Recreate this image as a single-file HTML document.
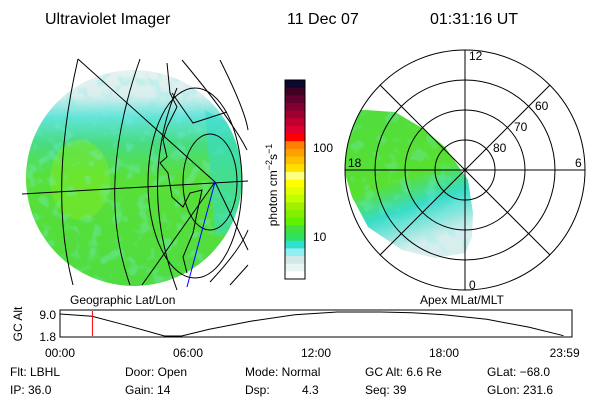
<!DOCTYPE html>
<html><head><meta charset="utf-8">
<style>
body{margin:0;background:#fff;}
svg{display:block;font-family:"Liberation Sans",sans-serif;}
</style></head>
<body>
<svg width="600" height="400" viewBox="0 0 600 400">
<defs>
<clipPath id="diskclip"><circle cx="134" cy="178" r="108"/></clipPath>
<clipPath id="polclip"><circle cx="465" cy="170" r="120"/></clipPath>
<linearGradient id="diskgrad" x1="0" y1="0" x2="0" y2="1">
<stop offset="0" stop-color="#e8f2f0"/><stop offset="0.12" stop-color="#d8eeee"/>
<stop offset="0.22" stop-color="#60e4d8"/><stop offset="0.34" stop-color="#48dc80"/>
<stop offset="0.5" stop-color="#58e038"/><stop offset="1" stop-color="#50dc40"/>
</linearGradient>
<linearGradient id="polgrad" x1="0" y1="0" x2="0.3" y2="1">
<stop offset="0" stop-color="#50dc40"/><stop offset="0.55" stop-color="#58e030"/>
<stop offset="0.75" stop-color="#38dcc8"/><stop offset="1" stop-color="#d8eeee"/>
</linearGradient>
<filter id="noise"><feTurbulence type="fractalNoise" baseFrequency="0.08" numOctaves="2" seed="3"/><feColorMatrix type="matrix" values="0 0 0 0 0.2  0 0 0 0 0.85  0 0 0 0 0.8  0 0 0 6 -3.2"/><feComposite in2="SourceGraphic" operator="in"/></filter>
</defs>

<g font-size="16" fill="#000">
<text x="45" y="24">Ultraviolet Imager</text>
<text x="287" y="24">11 Dec 07</text>
<text x="430" y="24">01:31:16 UT</text>
</g>

<g>
<circle cx="134" cy="178" r="108" fill="url(#diskgrad)"/>
<g clip-path="url(#diskclip)">
<ellipse cx="80" cy="180" rx="30" ry="40" fill="#80ec20" opacity="0.5"/>
<rect x="20" y="60" width="240" height="240" fill="#fff" filter="url(#noise)" opacity="0.3"/>
<path d="M205 110 L242 130 L242 230 L215 235 Z" fill="#38dcc8" opacity="0.6"/>
</g>
<g fill="none" stroke="#000" stroke-width="1">
<path d="M22 194 L248 181"/>
<path d="M78 59 Q48 190 73 285"/>
<path d="M140 59 Q95 187 130 285"/>
<path d="M177 88 Q138 183 177 290"/>
<path d="M78 59 L215 182 L142 285"/>
<ellipse cx="210" cy="182" rx="27" ry="48"/>
<ellipse cx="195" cy="183" rx="47" ry="95"/>
<path d="M182 60 Q232 120 247 150"/>
<path d="M220 60 Q245 110 248 130"/>
<path d="M215 182 L248 250"/>
<path d="M210 282 Q240 250 248 230"/>
<path d="M230 285 L248 265"/>
</g>
<path d="M167 63 L170 93 L177 107 L167 127 L163 140 L167 157 L160 163 L168 173 L172 197 L183 207 L190 193 L202 190 L197 213 L193 233 L183 257 L187 273 M172 93 L193 123 L227 112" fill="none" stroke="#000" stroke-width="1"/>
<path d="M215 182 L187 287" stroke="#0000ff" fill="none"/>
<text x="70" y="304" font-size="12">Geographic Lat/Lon</text>
</g>

<g id="cbar"></g>
<text transform="translate(277,185) rotate(-90)" text-anchor="middle" font-size="12">photon cm<tspan dy="-5" font-size="9">−2</tspan><tspan dy="5">s</tspan><tspan dy="-5" font-size="9">−1</tspan></text>
<text x="313" y="152" font-size="12">100</text>
<text x="313" y="241" font-size="12">10</text>

<g>
<g clip-path="url(#polclip)">
<path d="M345 110 L365 110 L395 112 L422 128 L445 147 L468 180 L473 213 L472 237 L465 253 L435 258 L402 250 L368 227 L352 197 L343 167 Z" fill="url(#polgrad)"/>
<path d="M345 110 L395 112 L445 147 L468 180 L473 213 L472 237 L465 253 L402 250 L352 197 Z" fill="#fff" filter="url(#noise)" opacity="0.25"/>
</g>
<g fill="none" stroke="#000">
<circle cx="465" cy="170" r="30"/><circle cx="465" cy="170" r="60"/>
<circle cx="465" cy="170" r="90"/><circle cx="465" cy="170" r="120"/>
<path d="M465 50 L465 290 M345 170 L585 170 M380 85 L550 255 M380 255 L550 85"/>
</g>
<g font-size="12" fill="#000">
<text x="469" y="60">12</text>
<text x="348" y="167">18</text>
<text x="575" y="167">6</text>
<text x="469" y="289">0</text>
<text x="535" y="110">60</text>
<text x="514" y="131">70</text>
<text x="493" y="152">80</text>
</g>
<text x="420" y="304" font-size="12">Apex MLat/MLT</text>
</g>

<g id="altplot">
<rect x="60" y="310" width="512" height="27" fill="none" stroke="#000"/>
<text transform="translate(22,324) rotate(-90)" text-anchor="middle" font-size="12">GC Alt</text>
<text x="56" y="319" text-anchor="end" font-size="12">9.0</text>
<text x="56" y="341" text-anchor="end" font-size="12">1.8</text>
</g>

<g font-size="12" fill="#000">
<text x="10" y="376">Flt: LBHL</text><text x="125" y="376">Door: Open</text>
<text x="245" y="376">Mode: Normal</text><text x="365" y="376">GC Alt: 6.6 Re</text>
<text x="487" y="376">GLat: −68.0</text>
<text x="10" y="394">IP: 36.0</text><text x="125" y="394">Gain: 14</text>
<text x="245" y="394">Dsp:</text><text x="302" y="394">4.3</text>
<text x="365" y="394">Seq: 39</text><text x="487" y="394">GLon: 231.6</text>
</g>
</svg>
<script>
var NS='http://www.w3.org/2000/svg';
var cbColors=['#0a0a30','#400020','#600030','#800030','#a00030','#c00030','#e00030','#ff0000','#ff8000','#ffa000','#ffc000','#ffe000','#ffff80','#ffff00','#e0ff00','#c0ff00','#a0f000','#80f000','#60f000','#40e040','#30e060','#30e0d0','#90f0f0','#d0e8e8','#e8f4f0','#ffffff'];
var altHours=[0,1.5,3,4.9,5.7,7,9,11,13,15,16.5,18,20,22,23.6];
var altValues=[8.4,7.7,5.2,1.8,1.8,3.8,6.3,8.2,9.0,9.0,8.8,8.2,6.8,4.4,1.9];
var tickLabels=['00:00','06:00','12:00','18:00','23:59'];
var tickHours=[0,6,12,18,23.983];
var markerHour=1.52;

var cb=document.getElementById('cbar');
var cbTop=80,cbBot=279,segH=(cbBot-cbTop)/cbColors.length;
cbColors.forEach(function(c,i){
 var r=document.createElementNS(NS,'rect');
 r.setAttribute('x',285);r.setAttribute('y',cbTop+i*segH);r.setAttribute('width',20);r.setAttribute('height',segH+0.5);r.setAttribute('fill',c);
 
 
 cb.appendChild(r);
});
var fr=document.createElementNS(NS,'rect');
fr.setAttribute('x',285);fr.setAttribute('y',cbTop);fr.setAttribute('width',20);fr.setAttribute('height',cbBot-cbTop);fr.setAttribute('fill','none');fr.setAttribute('stroke','#000');


cb.appendChild(fr);

function xs(hh){return 60+hh/24*512;}
function ys(v){return 336-(v-1.8)/(9.0-1.8)*24;}
var g=document.getElementById('altplot');
var d=altHours.map(function(hh,i){return (i?'L':'M')+xs(hh).toFixed(1)+' '+ys(altValues[i]).toFixed(1);}).join(' ');
var p=document.createElementNS(NS,'path');
p.setAttribute('d',d);p.setAttribute('fill','none');p.setAttribute('stroke','#000');


g.appendChild(p);
var m=document.createElementNS(NS,'line');
m.setAttribute('x1',xs(markerHour));m.setAttribute('x2',xs(markerHour));m.setAttribute('y1',311);m.setAttribute('y2',336);m.setAttribute('stroke','#ff0000');


g.appendChild(m);
tickLabels.forEach(function(t,i){
 var tx=document.createElementNS(NS,'text');
 var x=xs(tickHours[i]); if(i==4) x-=7;
 tx.setAttribute('x',x);tx.setAttribute('y',357);tx.setAttribute('text-anchor','middle');tx.setAttribute('font-size','12');
 tx.textContent=t;
 
 
 g.appendChild(tx);
});
</script>
</body></html>
